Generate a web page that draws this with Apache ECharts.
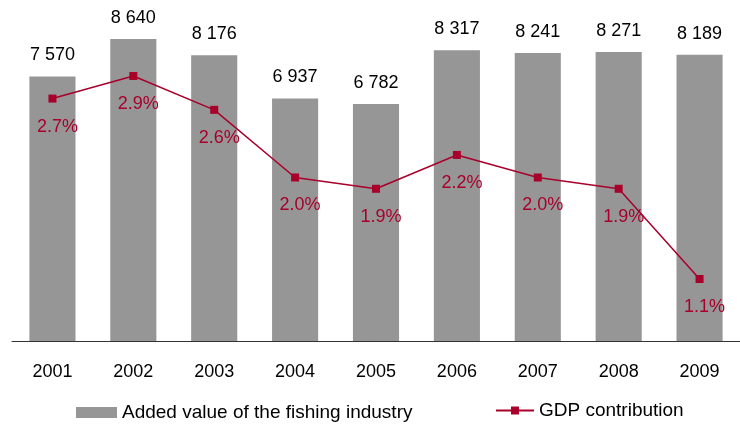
<!DOCTYPE html>
<html>
<head>
<meta charset="utf-8">
<script src="https://cdn.jsdelivr.net/npm/echarts@6/dist/echarts.min.js"></script>
<style>
  html, body { margin: 0; padding: 0; background: #fff; }
  #chart { width: 740px; height: 424px; }
</style>
</head>
<body>
<div id="chart"></div>
<script>
// Fishing industry: added value (bars) and share of GDP (line)
var years = ['2001', '2002', '2003', '2004', '2005', '2006', '2007', '2008', '2009'];
var addedValue = [7570, 8640, 8176, 6937, 6782, 8317, 8241, 8271, 8189];
var gdpShare = [2.7, 2.9, 2.6, 2.0, 1.9, 2.2, 2.0, 1.9, 1.1];

var barName = 'Added value of the fishing industry';
var lineName = 'GDP contribution';

var FONT = '"Liberation Sans", Arial, sans-serif';
var GREY = '#969696';
var RED = '#A8002B';

function spaced(v) {
  return String(v).replace(/\B(?=(\d{3})+(?!\d))/g, ' ');
}

var chart = echarts.init(document.getElementById('chart'), null, { renderer: 'canvas' });

chart.setOption({
  animation: false,
  textStyle: { fontFamily: FONT },
  grid: { left: 12, right: 0, top: 26.4, bottom: 83 },
  legend: [
    {
      data: [barName],
      left: 71, top: 398,
      itemWidth: 41, itemHeight: 11, itemGap: 10,
      icon: 'rect',
      textStyle: { fontFamily: FONT, fontSize: 19, color: '#000' }
    },
    {
      data: [lineName],
      left: 490, top: 396,
      itemWidth: 38, itemHeight: 10, itemGap: 10,
      textStyle: { fontFamily: FONT, fontSize: 19, color: '#000' }
    }
  ],
  xAxis: {
    type: 'category',
    data: years,
    axisLine: { lineStyle: { color: '#333', width: 1 } },
    axisTick: { show: false },
    axisLabel: { color: '#000', fontSize: 18, fontFamily: FONT, margin: 22 }
  },
  yAxis: [
    { type: 'value', min: 0, max: 9000, show: false, splitLine: { show: false } },
    { type: 'value', min: 0.55, max: 3.34, show: false, splitLine: { show: false } }
  ],
  series: [
    {
      name: barName,
      type: 'bar',
      data: addedValue,
      barWidth: '57%',
      itemStyle: { color: GREY },
      label: {
        show: true,
        position: 'top',
        distance: 12,
        color: '#000',
        fontSize: 18,
        fontFamily: FONT,
        formatter: function (p) { return spaced(p.value); }
      }
    },
    {
      name: lineName,
      type: 'line',
      yAxisIndex: 1,
      data: gdpShare,
      symbol: 'rect',
      symbolSize: 8,
      lineStyle: { color: RED, width: 1.5 },
      itemStyle: { color: RED },
      label: {
        show: true,
        position: 'bottom',
        distance: 15,
        offset: [5, 0],
        color: RED,
        fontSize: 18,
        fontFamily: FONT,
        formatter: function (p) { return p.value.toFixed(1) + '%'; }
      }
    }
  ]
});
</script>
</body>
</html>
